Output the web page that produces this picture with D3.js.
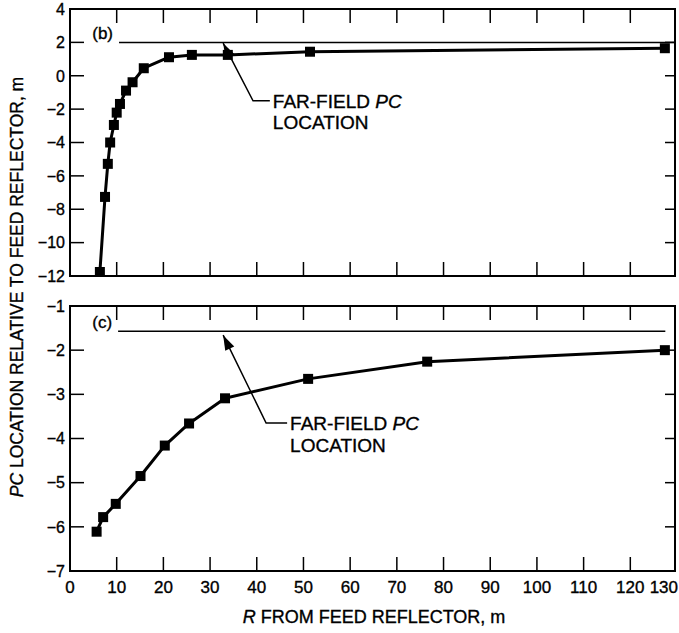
<!DOCTYPE html>
<html>
<head>
<meta charset="UTF-8">
<title></title>
<script src="https://cdn.jsdelivr.net/npm/d3@7"></script>
<style>
  body { margin: 0; background: #fff; }
  text { font-family: "Liberation Sans", Arial, Helvetica, sans-serif; fill: #000; stroke: #000; stroke-width: 0.35px; }
</style>
</head>
<body>
<script>
// R from feed reflector (m) and PC location (m), panel (b)
var topR  = [6.4, 7.5, 8.1, 8.6, 9.4, 10.0, 10.7, 12.0, 13.4, 15.8, 21.2, 26.1, 33.8, 51.4, 127.4];
var topPC = [-11.76, -7.26, -5.28, -4.0, -2.95, -2.21, -1.69, -0.89, -0.39, 0.45, 1.11, 1.25, 1.25, 1.44, 1.65];
// panel (c)
var botR  = [5.7, 7.1, 9.8, 15.1, 20.3, 25.5, 33.2, 51.0, 76.5, 127.4];
var botPC = [-6.11, -5.78, -5.48, -4.85, -4.16, -3.66, -3.09, -2.65, -2.26, -2.0];
// far-field PC location for each panel
var topFar = 2.0;
var botFar = -1.57;
// tick values
var xTicks = [0, 10, 20, 30, 40, 50, 60, 70, 80, 90, 100, 110, 120, 130];
var topYTicks = [4, 2, 0, -2, -4, -6, -8, -10, -12];
var botYTicks = [-1, -2, -3, -4, -5, -6, -7];

var width = 679, height = 633;
var svg = d3.select("body").append("svg")
  .attr("width", width)
  .attr("height", height);

var x = d3.scaleLinear().domain([0, 130]).range([70, 677]);
var frameRight = 675;
var fmt = function(d){ return d < 0 ? "\u2212" + Math.abs(d) : "" + d; };

function panel(cfg){
  var y = cfg.y;
  var g = svg.append("g");
  var top = y.range()[1], bot = y.range()[0];

  // frame
  g.append("rect")
    .attr("x", x(0)).attr("y", top)
    .attr("width", frameRight - x(0)).attr("height", bot - top)
    .attr("fill", "none").attr("stroke", "#000").attr("stroke-width", 2);

  // x ticks, inside, top and bottom
  var inner = xTicks.filter(function(d){ return d > 0 && d < 130; });
  g.selectAll("line.xt").data(inner).enter().append("line")
    .attr("x1", function(d){ return x(d); }).attr("x2", function(d){ return x(d); })
    .attr("y1", top).attr("y2", top + 14)
    .attr("stroke", "#000").attr("stroke-width", 1.5);
  g.selectAll("line.xb").data(inner).enter().append("line")
    .attr("x1", function(d){ return x(d); }).attr("x2", function(d){ return x(d); })
    .attr("y1", bot).attr("y2", bot - 14)
    .attr("stroke", "#000").attr("stroke-width", 1.5);

  // y ticks left and right
  var yin = cfg.ticks.slice(1, -1);
  g.selectAll("line.yl").data(yin).enter().append("line")
    .attr("x1", x(0)).attr("x2", x(0) + 14)
    .attr("y1", function(d){ return y(d); }).attr("y2", function(d){ return y(d); })
    .attr("stroke", "#000").attr("stroke-width", 1.5);
  g.selectAll("line.yr").data(yin).enter().append("line")
    .attr("x1", frameRight).attr("x2", frameRight - 10)
    .attr("y1", function(d){ return y(d); }).attr("y2", function(d){ return y(d); })
    .attr("stroke", "#000").attr("stroke-width", 1.5);

  // y tick labels
  g.selectAll("text.yl").data(cfg.ticks).enter().append("text")
    .attr("x", x(0) - 5)
    .attr("y", function(d){ return y(d); })
    .attr("dy", "0.36em")
    .attr("text-anchor", "end")
    .attr("font-size", "16px")
    .text(fmt);

  // far-field line
  g.append("line")
    .attr("x1", x(cfg.farFrom)).attr("x2", x(cfg.farTo))
    .attr("y1", y(cfg.far)).attr("y2", y(cfg.far))
    .attr("stroke", "#000").attr("stroke-width", 1.5);

  // panel label
  g.append("text")
    .attr("x", x(cfg.farFrom) - 6).attr("y", y(cfg.far) - 3)
    .attr("text-anchor", "end")
    .attr("font-size", "17px")
    .text(cfg.label);

  // data line + markers
  var pts = cfg.r.map(function(d, i){ return [d, cfg.v[i]]; });
  g.append("path")
    .attr("d", d3.line().x(function(d){ return x(d[0]); }).y(function(d){ return y(d[1]); })(pts))
    .attr("fill", "none").attr("stroke", "#000").attr("stroke-width", 3)
    .attr("stroke-linejoin", "round");
  g.selectAll("rect.pt").data(pts).enter().append("rect")
    .attr("x", function(d){ return x(d[0]) - 5; })
    .attr("y", function(d){ return y(d[1]) - 5; })
    .attr("width", 10).attr("height", 10)
    .attr("fill", "#000");

  // annotation arrow: tip -> elbow -> leader end
  var a = cfg.arrow;
  var tip = [x(a.tip[0]), y(a.tip[1])], elb = [x(a.elbow[0]), y(a.elbow[1])], end = [x(a.end), y(a.elbow[1])];
  g.append("polyline")
    .attr("points", [end, elb, tip].map(function(p){ return p.join(","); }).join(" "))
    .attr("fill", "none").attr("stroke", "#000").attr("stroke-width", 1.5);
  var ang = Math.atan2(tip[1] - elb[1], tip[0] - elb[0]) * 180 / Math.PI;
  g.append("path")
    .attr("d", "M0,0 L-15,-5 L-15,5 Z")
    .attr("transform", "translate(" + tip[0] + "," + tip[1] + ") rotate(" + ang + ")")
    .attr("fill", "#000");

  var t = g.append("text")
    .attr("x", end[0] + 3).attr("y", end[1])
    .attr("font-size", "19px");
  t.append("tspan").attr("x", end[0] + 3).attr("dy", "0.36em").text("FAR-FIELD ");
  t.append("tspan").attr("font-style", "italic").text("PC");
  t.append("tspan").attr("x", end[0] + 3).attr("dy", "1.15em").text("LOCATION");

  return y;
}

// panel (b)
var yTop = d3.scaleLinear().domain([-12, 4]).range([276, 9]);
panel({
  y: yTop, ticks: topYTicks, r: topR, v: topPC,
  far: topFar, farFrom: 10.5, farTo: 129.5, label: "(b)",
  arrow: { tip: [32.8, 1.95], elbow: [39.2, -1.5], end: 42.8 }
});

// panel (c)
var yBot = d3.scaleLinear().domain([-7, -1]).range([571, 306]);
panel({
  y: yBot, ticks: botYTicks, r: botR, v: botPC,
  far: botFar, farFrom: 10.3, farTo: 127.5, label: "(c)",
  arrow: { tip: [32.8, -1.66], elbow: [42.0, -3.65], end: 46.5 }
});

// x tick labels under bottom panel
svg.selectAll("text.xl").data(xTicks).enter().append("text")
  .attr("x", function(d){ return d === 130 ? 678 : x(d); })
  .attr("y", 593)
  .attr("text-anchor", function(d){ return d === 130 ? "end" : "middle"; })
  .attr("font-size", "17px")
  .text(function(d){ return d; });

// x axis title
var xt = svg.append("text")
  .attr("x", 374).attr("y", 623)
  .attr("text-anchor", "middle")
  .attr("font-size", "18px");
xt.append("tspan").attr("font-style", "italic").text("R");
xt.append("tspan").text(" FROM FEED REFLECTOR, m");

// y axis title (rotated)
var yt = svg.append("text")
  .attr("transform", "translate(23,287) rotate(-90)")
  .attr("text-anchor", "middle")
  .attr("font-size", "17.5px");
yt.append("tspan").attr("font-style", "italic").text("PC");
yt.append("tspan").text(" LOCATION RELATIVE TO FEED REFLECTOR, m");
</script>
</body>
</html>
